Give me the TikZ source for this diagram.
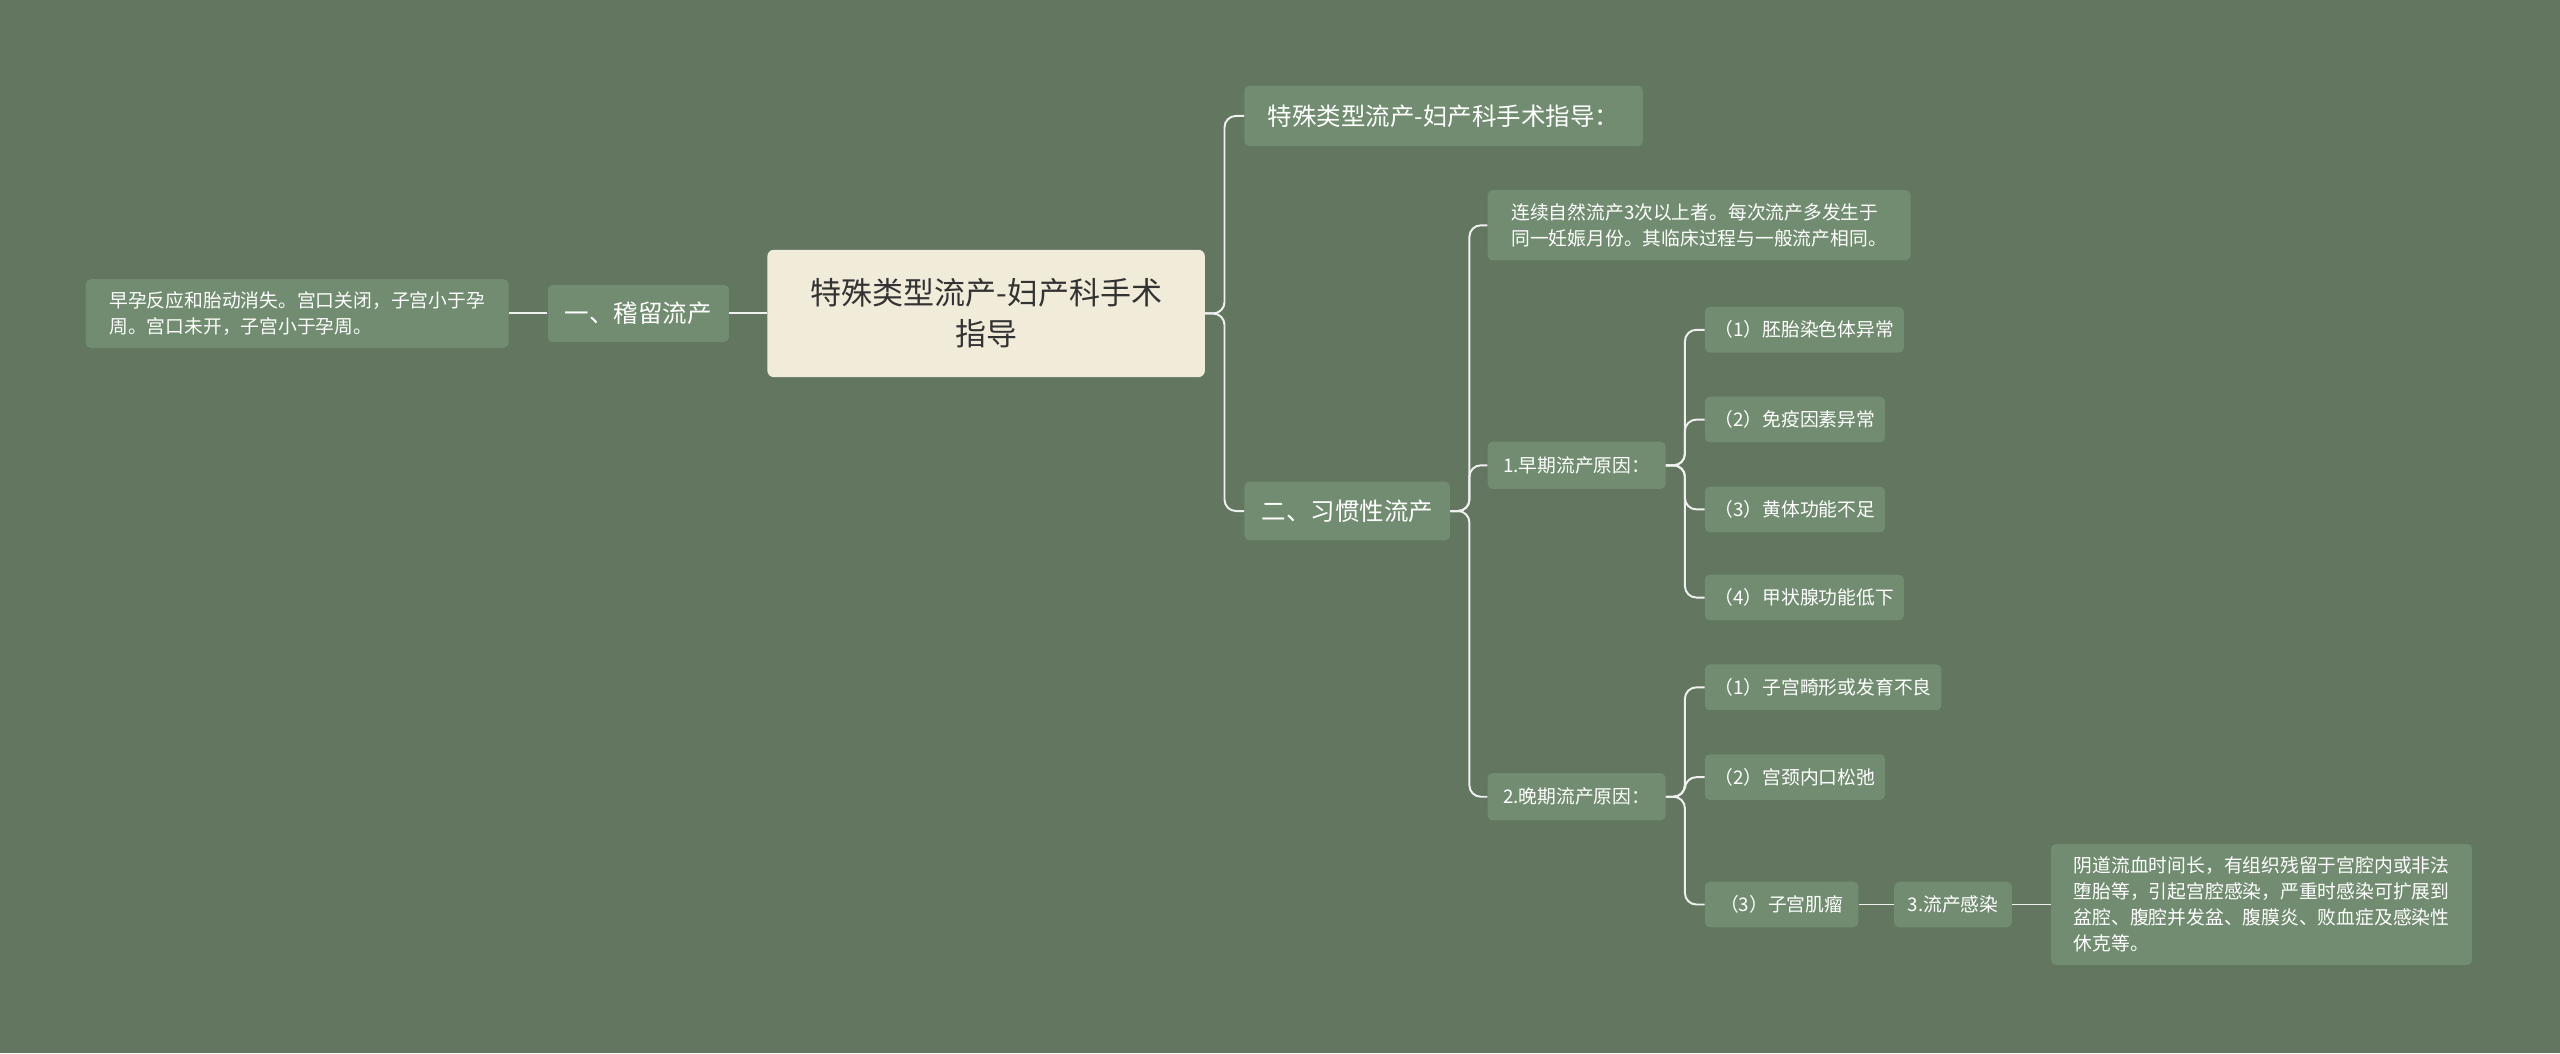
\documentclass[tikz,border=0pt]{standalone}
\usepackage{fontspec}
\setmainfont{Noto Sans CJK SC}
\XeTeXlinebreaklocale "zh"
\XeTeXlinebreakskip=0pt plus 1pt
\definecolor{bg}{HTML}{627660}
\definecolor{nb}{HTML}{718C70}
\definecolor{rootc}{HTML}{F1EBDA}
\begin{document}
\begin{tikzpicture}[x=1pt,y=-1pt,
 box/.style={fill=nb,rounded corners=3pt,text=white,font=\fontsize{11.5}{16}\selectfont,inner sep=6pt,anchor=west,align=left},
 big/.style={box,font=\fontsize{15}{19}\selectfont,inner sep=7pt},
 ln/.style={draw=white!90!bg,line width=1.2pt,rounded corners=7pt}]
\fill[bg] (0,0) rectangle (1568,645);
\useasboundingbox (0,0) rectangle (1568,645);
\node[fill=rootc,rounded corners=4pt,text=black!80,font=\fontsize{19}{25}\selectfont,align=center,minimum width=268pt,minimum height=78pt] (root) at (604,192) {特殊类型流产-妇产科手术\\指导};
\node[big,anchor=center,minimum width=111pt,minimum height=35pt] (l1) at (391,192) {一、稽留流产};
\node[box,anchor=center,minimum width=259pt,minimum height=42pt,inner sep=5pt] (l2) at (182,192) {早孕反应和胎动消失。宫口关闭，子宫小于孕\\周。宫口未开，子宫小于孕周。};
\node[big,minimum height=37pt,minimum width=244pt] (t1) at (762,71) {特殊类型流产-妇产科手术指导：};
\node[big,minimum height=36pt,minimum width=126pt] (t2) at (762,313) {二、习惯性流产};
\node[box,minimum width=259pt,minimum height=43pt,inner sep=5pt] (a) at (911,138) {连续自然流产3次以上者。每次流产多发生于\\同一妊娠月份。其临床过程与一般流产相同。};
\node[box,minimum height=29pt,minimum width=109pt] (e) at (911,285) {1.早期流产原因：};
\node[box,minimum height=29pt,minimum width=109pt] (w) at (911,488) {2.晚期流产原因：};
\node[box,minimum height=28pt] (e1) at (1044,202) {（1）胚胎染色体异常};
\node[box,minimum height=28pt] (e2) at (1044,257) {（2）免疫因素异常};
\node[box,minimum height=28pt] (e3) at (1044,312) {（3）黄体功能不足};
\node[box,minimum height=28pt] (e4) at (1044,366) {（4）甲状腺功能低下};
\node[box,minimum height=28pt] (w1) at (1044,421) {（1）子宫畸形或发育不良};
\node[box,minimum height=28pt] (w2) at (1044,476) {（2）宫颈内口松弛};
\node[box,minimum height=28pt,minimum width=94pt] (w3) at (1044,554) {（3）子宫肌瘤};
\node[box,minimum height=28pt,minimum width=72pt] (s) at (1160,554) {3.流产感染};
\node[box,minimum width=258pt,minimum height=74pt,inner sep=5pt] (f) at (1256,554) {阴道流血时间长，有组织残留于宫腔内或非法\\堕胎等，引起宫腔感染，严重时感染可扩展到\\盆腔、腹腔并发盆、腹膜炎、败血症及感染性\\休克等。};
\draw[ln] (root.west) -- (l1.east);
\draw[ln] (l1.west) -- (l2.east);
\foreach \c in {t1,t2} \draw[ln] (root.east) -- (750,192) |- (\c.west);
\foreach \c in {a,e,w} \draw[ln] (t2.east) -- (900,313) |- (\c.west);
\foreach \c in {e1,e2,e3,e4} \draw[ln] (e.east) -- (1032,285) |- (\c.west);
\foreach \c in {w1,w2,w3} \draw[ln] (w.east) -- (1032,488) |- (\c.west);
\draw[ln] (w3.east) -- (s.west);
\draw[ln] (s.east) -- (f.west);
\end{tikzpicture}
\end{document}
